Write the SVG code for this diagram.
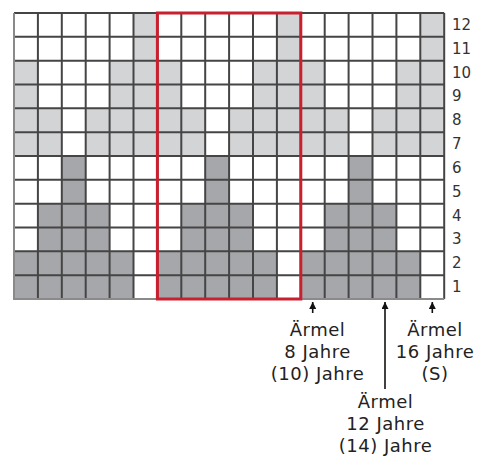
<svg xmlns="http://www.w3.org/2000/svg" width="479" height="457" viewBox="0 0 479 457">
<style>
.L{fill:#d3d4d6}
.D{fill:#a6a7aa}
.grid{fill:none;stroke:#454545;stroke-width:2}
.edge{fill:none;stroke:#8a8a8a;stroke-width:2}
.red{fill:none;stroke:#c8202f;stroke-width:3}
.num{font-family:"DejaVu Sans",Verdana,sans-serif;font-size:15px;fill:#333}
.lab{font-family:"DejaVu Sans",Verdana,sans-serif;font-size:18px;fill:#222;text-anchor:middle;letter-spacing:0.5px}
.arr{stroke:#111;stroke-width:1.6;fill:none}
</style>
<defs>
<marker id="ah" viewBox="0 0 10 10" refX="10" refY="5" markerWidth="9" markerHeight="7" orient="auto" markerUnits="userSpaceOnUse">
<path d="M0,0 L10,5 L0,10 z" fill="#111"/>
</marker>
</defs>
<rect width="479" height="457" fill="#fff"/>
<g id="chart">
<g id="cells" transform="translate(14,13) scale(23.9,23.8333)">
<rect class="L" x="5" y="0" width="1" height="2"/>
<rect class="L" x="11" y="0" width="1" height="2"/>
<rect class="L" x="17" y="0" width="1" height="2"/>
<rect class="L" x="0" y="2" width="1" height="2"/>
<rect class="L" x="4" y="2" width="3" height="2"/>
<rect class="L" x="10" y="2" width="3" height="2"/>
<rect class="L" x="16" y="2" width="2" height="2"/>
<rect class="L" x="0" y="4" width="2" height="2"/>
<rect class="L" x="3" y="4" width="5" height="2"/>
<rect class="L" x="9" y="4" width="5" height="2"/>
<rect class="L" x="15" y="4" width="3" height="2"/>
<rect class="D" x="2" y="6" width="1" height="2"/>
<rect class="D" x="8" y="6" width="1" height="2"/>
<rect class="D" x="14" y="6" width="1" height="2"/>
<rect class="D" x="1" y="8" width="3" height="2"/>
<rect class="D" x="7" y="8" width="3" height="2"/>
<rect class="D" x="13" y="8" width="3" height="2"/>
<rect class="D" x="0" y="10" width="5" height="2"/>
<rect class="D" x="6" y="10" width="5" height="2"/>
<rect class="D" x="12" y="10" width="5" height="2"/>
<path class="grid" vector-effect="non-scaling-stroke" d="M1,0V12M2,0V12M3,0V12M4,0V12M5,0V12M6,0V12M7,0V12M8,0V12M9,0V12M10,0V12M11,0V12M12,0V12M13,0V12M14,0V12M15,0V12M16,0V12M17,0V12M18,0V12M0,0H18M0,1H18M0,2H18M0,3H18M0,4H18M0,5H18M0,6H18M0,7H18M0,8H18M0,9H18M0,10H18M0,11H18"/>
<path class="edge" vector-effect="non-scaling-stroke" d="M0,0V12H18"/>
</g>
<rect id="repeat" class="red" x="157.4" y="13" width="143.4" height="286"/>
</g>
<g id="rownumbers" class="num">
<text x="452" y="30">12</text>
<text x="452" y="53.7">11</text>
<text x="452" y="77.6">10</text>
<text x="452" y="101.4">9</text>
<text x="452" y="125.2">8</text>
<text x="452" y="149">7</text>
<text x="452" y="172.9">6</text>
<text x="452" y="196.7">5</text>
<text x="452" y="220.5">4</text>
<text x="452" y="244.4">3</text>
<text x="452" y="268.2">2</text>
<text x="452" y="292">1</text>
</g>
<g id="connectors">
<line class="arr" x1="312.7" y1="313" x2="312.7" y2="302" marker-end="url(#ah)"/>
<line class="arr" x1="385" y1="389" x2="385" y2="302" marker-end="url(#ah)"/>
<line class="arr" x1="432.3" y1="313" x2="432.3" y2="302" marker-end="url(#ah)"/>
</g>
<g id="label-8" class="lab">
<text x="317.5" y="336">Ärmel</text>
<text x="317.5" y="358">8 Jahre</text>
<text x="317.5" y="380">(10) Jahre</text>
</g>
<g id="label-12" class="lab">
<text x="385.5" y="408">Ärmel</text>
<text x="385.5" y="430">12 Jahre</text>
<text x="385.5" y="452">(14) Jahre</text>
</g>
<g id="label-16" class="lab">
<text x="435" y="336">Ärmel</text>
<text x="435" y="358">16 Jahre</text>
<text x="435" y="380">(S)</text>
</g>
</svg>
